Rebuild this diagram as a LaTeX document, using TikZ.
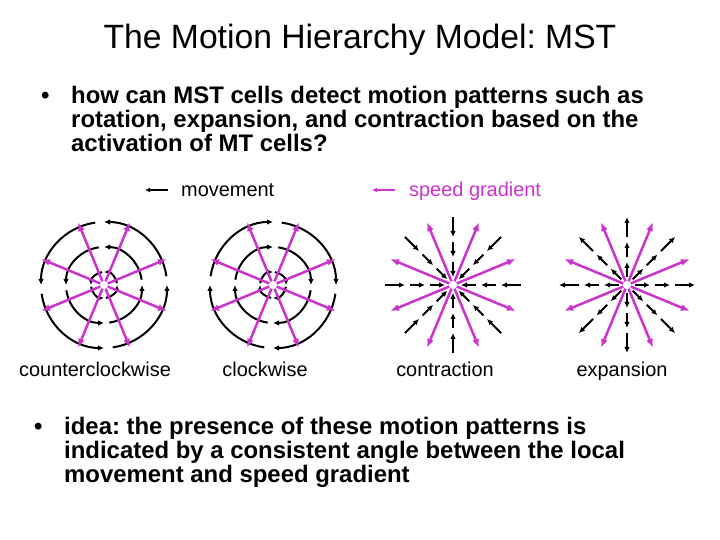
\documentclass[tikz,border=0pt]{standalone}
\usepackage{fontspec}
\setmainfont{Liberation Sans}
\usetikzlibrary{arrows.meta}
\definecolor{mag}{RGB}{204,51,204}
\begin{document}
\frenchspacing
\begin{tikzpicture}[x=1bp,y=1bp,
  titlefont/.style={font=\fontsize{33.8}{38}\selectfont, anchor=base, inner sep=0pt},
  bul/.style={font=\bfseries\fontsize{24}{24}\selectfont, anchor=base west, inner sep=0pt},
  lab/.style={font=\fontsize{20}{22}\selectfont, anchor=base, inner sep=0pt},
  mv/.style={line width=2bp, -{Latex[length=6bp,width=5.5bp]}},
  circ/.style={line width=2bp, -{Latex[length=6bp,width=5.5bp]}},
  sg/.style={mag, line width=2.5bp, -{Latex[length=9bp,width=7bp]}}]
\useasboundingbox (0,0) rectangle (720,540);
% title
\node[titlefont] (title) at (360,491) {The Motion Hierarchy Model: MST};
% bullet 1
\node[bul] (b1) at (41,436) {•};
\node[bul] (l1) at (71,436) {how can MST cells detect motion patterns such as};
\node[bul] (l2) at (71,412) {rotation, expansion, and contraction based on the};
\node[bul] (l3) at (71,388) {activation of MT cells?};
% bullet 2
\node[bul] (b2) at (34,105) {•};
\node[bul] (m1) at (64,105) {idea: the presence of these motion patterns is};
\node[bul] (m2) at (64,81) {indicated by a consistent angle between the local};
\node[bul] (m3) at (64,57) {movement and speed gradient};
% legend
\coordinate (mva) at (168,350);
\coordinate (mvb) at (145,350);
\draw[line width=1.5bp, -{Latex[length=5bp,width=5bp]}] (mva) -- (mvb);
\node[lab, anchor=base west] (mvt) at (181,343) {movement};
\coordinate (sga) at (395,350);
\coordinate (sgb) at (372,350);
\draw[mag, line width=1.5bp, -{Latex[length=5bp,width=5bp]}] (sga) -- (sgb);
\node[lab, anchor=base west, text=mag] (sgt) at (409,343) {speed gradient};
% captions
\node[lab] (c1) at (95,163) {counterclockwise};
\node[lab] (c2) at (265,163) {clockwise};
\node[lab] (c3) at (445,163) {contraction};
\node[lab] (c4) at (622,163) {expansion};
% D1 counterclockwise
\begin{scope}[shift={(104,255)}]
  \foreach \r in {13,38,63}
    \foreach \a in {0,90,180,270}
      \draw[circ] (\a+8:\r) arc[start angle=\a+8, end angle=\a+90, radius=\r];
  \foreach \a in {22.5,67.5,...,337.5}
    \draw[sg] (\a:4) -- (\a:68);
\end{scope}
% D2 clockwise
\begin{scope}[shift={(273,255)}]
  \foreach \r in {13,38,63}
    \foreach \a in {0,90,180,270}
      \draw[circ] (\a-8:\r) arc[start angle=\a-8, end angle=\a-90, radius=\r];
  \foreach \a in {22.5,67.5,...,337.5}
    \draw[sg] (\a:4) -- (\a:68);
\end{scope}
% D3 contraction
\begin{scope}[shift={(453,255)}]
  \foreach \a in {0,45,...,315} {
    \draw[mv] (\a:68) -- (\a:48);
    \draw[mv] (\a:43) -- (\a:28);
    \draw[mv] (\a:23) -- (\a:8);
  }
  \foreach \a in {22.5,67.5,...,337.5}
    \draw[sg] (\a:4) -- (\a:68);
\end{scope}
% D4 expansion
\begin{scope}[shift={(627,255)}]
  \foreach \a in {0,45,...,315} {
    \draw[mv] (\a:48) -- (\a:68);
    \draw[mv] (\a:28) -- (\a:43);
    \draw[mv] (\a:8) -- (\a:23);
  }
  \foreach \a in {22.5,67.5,...,337.5}
    \draw[sg] (\a:4) -- (\a:68);
\end{scope}
\end{tikzpicture}
\end{document}
